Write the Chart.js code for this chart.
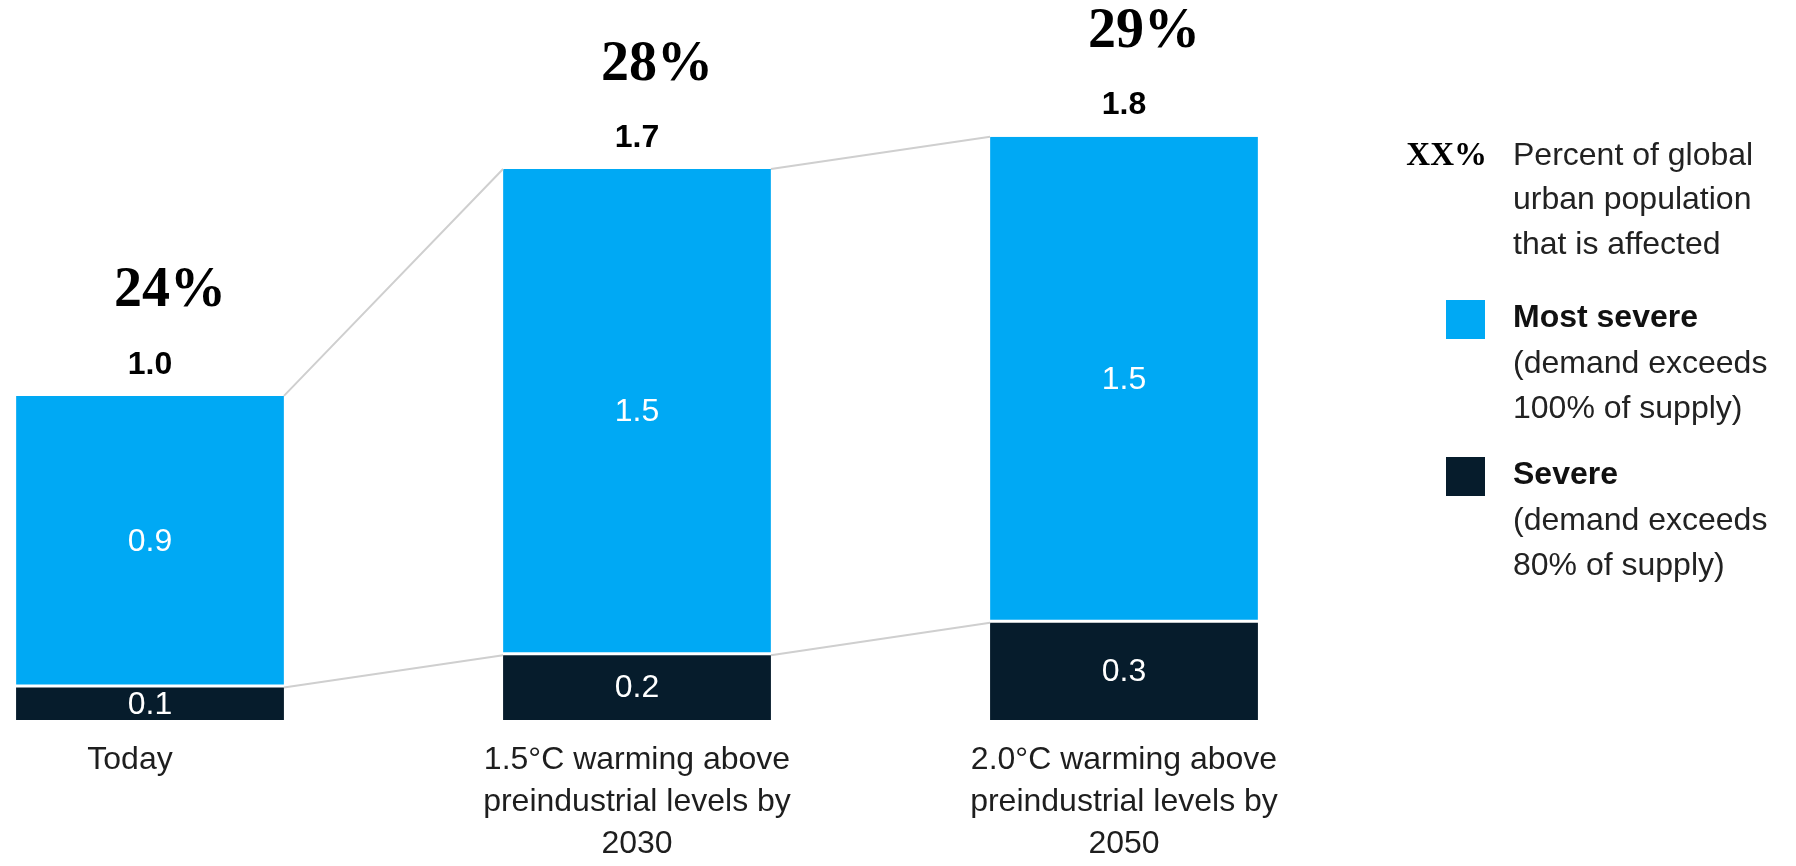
<!DOCTYPE html>
<html>
<head>
<meta charset="utf-8">
<script src="https://cdn.jsdelivr.net/npm/chart.js@4.4.1/dist/chart.umd.min.js"></script>
<style>
  html, body { margin: 0; padding: 0; background: #fff; }
  #wrap { width: 1796px; height: 866px; position: relative; }
</style>
</head>
<body>
<div id="wrap"><canvas id="myChart"></canvas></div>
<script>
const categories = [
    ['Today'],
    ['1.5°C warming above', 'preindustrial levels by', '2030'],
    ['2.0°C warming above', 'preindustrial levels by', '2050']
];
const severe = [0.1, 0.2, 0.3];
const mostSevere = [0.9, 1.5, 1.5];
const totals = [1.0, 1.7, 1.8];
const shareAffected = ['24%', '28%', '29%'];

const BLUE = '#00a9f4';
const DARK = '#061c2c';

const legendItems = [
    { color: BLUE, title: 'Most severe', lines: ['(demand exceeds', '100% of supply)'] },
    { color: DARK, title: 'Severe', lines: ['(demand exceeds', '80% of supply)'] }
];

const annotations = {
    id: 'annotations',
    afterDatasetsDraw(chart) {
        const ctx = chart.ctx;
        const low = chart.getDatasetMeta(0).data;
        const high = chart.getDatasetMeta(1).data;

        ctx.save();
        // connector lines between bars
        ctx.strokeStyle = '#cfcfcf';
        ctx.lineWidth = 2;
        for (let i = 0; i < high.length - 1; i++) {
            const a = high[i], b = high[i + 1];
            const la = low[i], lb = low[i + 1];
            ctx.beginPath();
            ctx.moveTo(a.x + a.width / 2, a.y);
            ctx.lineTo(b.x - b.width / 2, b.y);
            ctx.moveTo(la.x + la.width / 2, la.y);
            ctx.lineTo(lb.x - lb.width / 2, lb.y);
            ctx.stroke();
        }

        ctx.textAlign = 'center';
        ctx.textBaseline = 'middle';

        high.forEach((bar, i) => {
            const lowBar = low[i];
            // values inside segments
            ctx.fillStyle = '#ffffff';
            ctx.font = '32px "Liberation Sans"';
            ctx.fillText(mostSevere[i].toFixed(1), bar.x, (bar.y + bar.base) / 2);
            ctx.fillText(severe[i].toFixed(1), lowBar.x, (lowBar.y + lowBar.base) / 2 + 1);

            // totals
            ctx.fillStyle = '#000';
            ctx.font = 'bold 32px "Liberation Sans"';
            ctx.fillText(totals[i].toFixed(1), bar.x, bar.y - 31);

            // share of urban population
            ctx.font = 'bold 56px "Liberation Serif"';
            ctx.fillText(shareAffected[i], bar.x + 20, bar.y - 104);

            // category labels
            ctx.fillStyle = '#1e1e1e';
            ctx.font = '32px "Liberation Sans"';
            const lines = chart.data.labels[i];
            const dx = i === 0 ? -20 : 0;
            lines.forEach((t, k) => {
                ctx.fillText(t, bar.x + dx, 760 + k * 42);
            });
        });

        // legend
        ctx.textAlign = 'left';
        ctx.fillStyle = '#000';
        ctx.font = 'bold 33px "Liberation Serif"';
        ctx.textAlign = 'right';
        ctx.fillText('XX%', 1487, 156);
        ctx.textAlign = 'left';
        ctx.fillStyle = '#222';
        ctx.font = '32px "Liberation Sans"';
        ['Percent of global', 'urban population', 'that is affected'].forEach((t, k) => {
            ctx.fillText(t, 1513, 156 + k * 44.5);
        });

        let y = 318;
        legendItems.forEach(item => {
            ctx.fillStyle = item.color;
            ctx.fillRect(1446, y - 18, 39, 39);
            ctx.fillStyle = '#111';
            ctx.font = 'bold 32px "Liberation Sans"';
            ctx.fillText(item.title, 1513, y);
            ctx.fillStyle = '#222';
            ctx.font = '32px "Liberation Sans"';
            item.lines.forEach((t, k) => {
                ctx.fillText(t, 1513, y + 46 + k * 45);
            });
            y += 157;
        });
        ctx.restore();
    }
};

const ctx = document.getElementById('myChart').getContext('2d');
const chart = new Chart(ctx, {
    type: 'bar',
    data: {
        labels: categories,
        datasets: [{
            label: 'Severe',
            data: severe,
            backgroundColor: DARK,
            borderWidth: 0,
            clip: false
        }, {
            label: 'Most severe',
            data: mostSevere,
            backgroundColor: BLUE,
            borderColor: '#ffffff',
            borderWidth: { top: 0, left: 0, right: 0, bottom: 3 },
            borderSkipped: false,
            clip: false
        }]
    },
    options: {
        responsive: true,
        maintainAspectRatio: false,
        animation: false,
        layout: { padding: { left: 150, right: 672, top: 7, bottom: 146 } },
        barPercentage: 0.55,
        categoryPercentage: 1,
        plugins: {
            legend: { display: false },
            tooltip: { enabled: false }
        },
        scales: {
            x: { display: false, stacked: true, offset: false },
            y: { display: false, stacked: true, min: 0, max: 2.2 }
        }
    },
    plugins: [annotations]
});
</script>
</body>
</html>
